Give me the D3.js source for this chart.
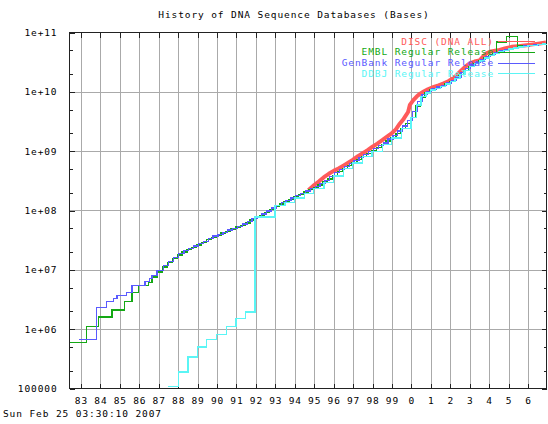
<!DOCTYPE html>
<html><head><meta charset="utf-8">
<script src="https://cdn.jsdelivr.net/npm/d3@7"></script>
<style>
html,body{margin:0;padding:0;background:#fff;}
svg{display:block;}
text{font-family:"DejaVu Sans Mono","Liberation Mono",monospace;font-size:9.5px;letter-spacing:0.9px;}
</style></head><body>
<svg id="c" width="548" height="424"></svg>
<script>
// ---------- data ----------
const titleText = "History of DNA Sequence Databases (Bases)";
const dateText = "Sun Feb 25 03:30:10 2007";
const yearTicks = [1983,1984,1985,1986,1987,1988,1989,1990,1991,1992,1993,1994,1995,1996,1997,1998,1999,2000,2001,2002,2003,2004,2005,2006];
const yearLabels = ["83","84","85","86","87","88","89","90","91","92","93","94","95","96","97","98","99","0","1","2","3","4","5","6"];
const yTickValues = [1e5,1e6,1e7,1e8,1e9,1e10,1e11];
const yTickLabels = ["100000","1e+06","1e+07","1e+08","1e+09","1e+10","1e+11"];
const seriesNames = ["DISC (DNA ALL)","EMBL Regular Release","GenBank Regular Release","DDBJ Regular Release"];

const discYears = [1994.7,1995.0,1995.25,1995.5,1995.75,1996.0,1996.25,1996.5,1996.75,1997.0,1997.25,1997.5,1997.75,1998.0,1998.25,1998.5,1998.75,1999.0,1999.2,1999.4,1999.6,1999.83,1999.92,2000.1,2000.27,2000.45,2000.61,2000.85,2001.12,2001.4,2001.63,2001.9,2002.15,2002.35,2002.58,2002.8,2003.0,2003.25,2003.51,2003.7,2003.86,2004.1,2004.46,2004.8,2005.15,2005.5,2005.92,2006.25,2006.6,2006.92];
const discValues = [2.19e8,2.69e8,3.1e8,3.65e8,4.15e8,4.65e8,5.1e8,5.7e8,6.4e8,7.2e8,8.25e8,9.25e8,1.04e9,1.19e9,1.34e9,1.53e9,1.76e9,2.02e9,2.33e9,2.9e9,3.5e9,4.57e9,6.03e9,7.24e9,8.32e9,9.33e9,1.0e10,1.1e10,1.2e10,1.29e10,1.38e10,1.51e10,1.7e10,1.95e10,2.32e10,2.69e10,3.02e10,3.24e10,3.39e10,3.98e10,4.44e10,4.79e10,5.01e10,5.37e10,5.73e10,5.89e10,6.11e10,6.31e10,6.53e10,6.76e10];

const emblYears = [1982.42,1983.27,1983.9,1984.59,1985.24,1985.62,1985.96,1986.47,1986.65,1986.91,1987.2,1987.45,1987.7,1987.95,1988.2,1988.45,1988.7,1988.95,1989.2,1989.45,1989.7,1989.95,1990.2,1990.45,1990.7,1990.95,1991.2,1991.45,1991.7,1991.95,1992.2,1992.45,1992.7,1992.95,1993.2,1993.45,1993.7,1993.95,1994.2,1994.45,1994.7,1994.95,1995.2,1995.45,1995.7,1995.95,1996.2,1996.45,1996.7,1996.95,1997.2,1997.45,1997.7,1997.95,1998.2,1998.45,1998.7,1998.95,1999.2,1999.45,1999.7,1999.95,2000.2,2000.45,2000.7,2000.95,2001.2,2001.45,2001.7,2001.95,2002.2,2002.45,2002.7,2002.95,2003.2,2003.45,2003.7,2003.95,2004.2,2004.39,2004.91,2005.46,2005.97,2006.45,2006.92];
const emblValues = [5.9e5,1.1e6,1.6e6,2.1e6,2.9e6,4.2e6,5.5e6,6.1e6,7.6e6,9.2e6,1.12e7,1.32e7,1.55e7,1.78e7,2.0e7,2.19e7,2.4e7,2.63e7,2.88e7,3.24e7,3.55e7,3.8e7,4.17e7,4.47e7,4.9e7,5.25e7,5.62e7,6.17e7,6.92e7,7.59e7,8.32e7,9.33e7,1.05e8,1.17e8,1.29e8,1.41e8,1.55e8,1.70e8,1.86e8,2.04e8,2.24e8,2.45e8,2.69e8,3.02e8,3.39e8,3.9e8,4.57e8,5.13e8,5.75e8,6.46e8,7.24e8,8.13e8,9.12e8,1.02e9,1.15e9,1.29e9,1.48e9,1.7e9,2.0e9,2.4e9,2.9e9,3.7e9,5.75e9,8.13e9,9.55e9,1.07e10,1.15e10,1.23e10,1.35e10,1.48e10,1.66e10,1.95e10,2.29e10,2.69e10,3.02e10,3.31e10,3.72e10,4.07e10,4.37e10,6.9e10,8.5e10,5.9e10,6.1e10,6.3e10,6.45e10];

const genbankYears = [1982.9,1983.79,1984.3,1984.68,1984.85,1985.36,1985.62,1986.3,1986.53,1986.65,1986.91,1987.25,1987.5,1987.75,1988.0,1988.3,1988.55,1988.8,1989.05,1989.3,1989.55,1989.8,1990.05,1990.3,1990.55,1990.8,1991.05,1991.3,1991.55,1991.8,1992.05,1992.3,1992.55,1992.8,1993.05,1993.3,1993.55,1993.8,1994.05,1994.3,1994.55,1994.8,1995.05,1995.3,1995.55,1995.8,1996.05,1996.3,1996.55,1996.8,1997.05,1997.3,1997.55,1997.8,1998.05,1998.3,1998.55,1998.8,1999.05,1999.3,1999.55,1999.8,2000.05,2000.3,2000.55,2000.8,2001.05,2001.3,2001.55,2001.8,2002.05,2002.3,2002.55,2002.8,2003.05,2003.3,2003.55,2003.8,2004.05,2004.3,2004.55,2004.8,2005.05,2005.3,2005.55,2005.8,2006.05,2006.3,2006.55,2006.8,2006.92];
const genbankValues = [6.7e5,2.3e6,2.9e6,3.3e6,3.7e6,4.2e6,5.5e6,6.3e6,7.1e6,8.1e6,9.8e6,1.17e7,1.38e7,1.62e7,1.86e7,2.09e7,2.29e7,2.51e7,2.75e7,3.02e7,3.39e7,3.72e7,3.98e7,4.27e7,4.68e7,5.01e7,5.37e7,5.89e7,6.46e7,7.24e7,7.94e7,8.71e7,9.77e7,1.10e8,1.23e8,1.35e8,1.48e8,1.62e8,1.78e8,1.95e8,2.14e8,2.34e8,2.57e8,2.88e8,3.24e8,3.7e8,4.36e8,4.9e8,5.5e8,6.16e8,6.92e8,7.76e8,8.71e8,9.77e8,1.1e9,1.23e9,1.38e9,1.6e9,1.85e9,2.2e9,2.65e9,3.3e9,4.6e9,6.9e9,8.9e9,1.02e10,1.12e10,1.2e10,1.29e10,1.41e10,1.55e10,1.78e10,2.09e10,2.45e10,2.82e10,3.16e10,3.47e10,3.89e10,4.27e10,4.57e10,4.9e10,5.13e10,5.37e10,5.62e10,5.75e10,5.89e10,6.03e10,6.17e10,6.31e10,6.46e10,6.5e10];

const ddbjYears = [1987.5,1988.02,1988.5,1988.99,1989.47,1989.99,1990.47,1990.97,1991.48,1991.96,1992.98,1993.5,1993.98,1994.5,1994.98,1995.5,1995.98,1996.5,1996.98,1997.5,1997.98,1998.5,1998.98,1999.5,1999.98,2000.25,2000.5,2000.75,2001.0,2001.25,2001.5,2001.75,2002.0,2002.25,2002.5,2002.75,2003.0,2003.25,2003.5,2003.75,2004.0,2004.25,2004.5,2004.75,2005.0,2005.25,2005.5,2005.75,2006.0,2006.25,2006.5,2006.75,2006.92];
const ddbjValues = [1.07e5,1.9e5,3.4e5,5.0e5,6.7e5,8.1e5,1.12e6,1.51e6,1.95e6,7.8e7,1.23e8,1.38e8,1.62e8,1.95e8,2.34e8,2.95e8,3.8e8,5.13e8,6.3e8,8.13e8,1.0e9,1.29e9,1.66e9,2.4e9,3.7e9,6.03e9,8.32e9,9.55e9,1.07e10,1.15e10,1.23e10,1.35e10,1.48e10,1.66e10,1.95e10,2.29e10,2.69e10,3.02e10,3.31e10,3.72e10,4.07e10,4.47e10,4.79e10,5.01e10,5.25e10,5.5e10,5.69e10,5.82e10,5.96e10,6.1e10,6.24e10,6.38e10,6.46e10];

const colors = ["#ff5a5a","#14a814","#5a5aff","#5af5f5"];

// ---------- chart ----------
const svg = d3.select("#c");
const L = 69.5, R = 546.5, T = 32.5, B = 388.5;
const x = d3.scaleLinear().domain([1982.41, 2006.95]).range([L, R]);
const y = d3.scaleLog().domain([1e5, 1e11]).range([B, T]);

svg.append("text").attr("x", 294).attr("y", 18).attr("text-anchor","middle").attr("fill","#000").text(titleText);
svg.append("text").attr("x", 3).attr("y", 417).attr("fill","#000").text(dateText);

// grid
const grid = svg.append("g").attr("shape-rendering","crispEdges");
grid.selectAll("line.v").data(yearTicks).join("line")
  .attr("x1", d => Math.round(x(d)) + 0.5).attr("x2", d => Math.round(x(d)) + 0.5)
  .attr("y1", T).attr("y2", B).attr("stroke", "#aaaaaa");
grid.selectAll("line.h").data(yTickValues.slice(1, -1)).join("line")
  .attr("y1", d => Math.round(y(d)) + 0.5).attr("y2", d => Math.round(y(d)) + 0.5)
  .attr("x1", L).attr("x2", R).attr("stroke", "#aaaaaa");

// axes
const minorY = [];
yTickValues.slice(0, -1).forEach(v => { minorY.push(v * 2, v * 5); });

const axB = d3.axisBottom(x).tickValues(yearTicks).tickFormat((d, i) => yearLabels[i]).tickSizeInner(-5).tickSizeOuter(0).tickPadding(9);
const axT = d3.axisTop(x).tickValues(yearTicks).tickFormat("").tickSizeInner(-5).tickSizeOuter(0);
const axL = d3.axisLeft(y).tickValues(yTickValues).tickFormat((d, i) => yTickLabels[i]).tickSizeInner(-5).tickSizeOuter(0).tickPadding(12);
const axR = d3.axisRight(y).tickValues(yTickValues).tickFormat("").tickSizeInner(-5).tickSizeOuter(0);
const axLm = d3.axisLeft(y).tickValues(minorY).tickFormat("").tickSizeInner(-3).tickSizeOuter(0);
const axRm = d3.axisRight(y).tickValues(minorY).tickFormat("").tickSizeInner(-3).tickSizeOuter(0);

function styleAxis(g) {
  g.attr("shape-rendering","crispEdges");
  g.select(".domain").remove();
  g.selectAll(".tick line").attr("stroke", "#222");
  g.selectAll(".tick text").attr("fill", "#000").style("font-family", '"DejaVu Sans Mono",monospace').style("font-size", "9.5px").style("letter-spacing","0.9px");
}
svg.append("g").attr("transform", `translate(0,${B})`).call(axB).call(styleAxis);
svg.append("g").attr("transform", `translate(0,${T})`).call(axT).call(styleAxis);
svg.append("g").attr("transform", `translate(${L},0)`).call(axL).call(styleAxis);
svg.append("g").attr("transform", `translate(${R},0)`).call(axR).call(styleAxis);
svg.append("g").attr("transform", `translate(${L},0)`).call(axLm).call(styleAxis);
svg.append("g").attr("transform", `translate(${R},0)`).call(axRm).call(styleAxis);

// border
svg.append("rect").attr("x", L).attr("y", T).attr("width", R - L).attr("height", B - T)
  .attr("fill","none").attr("stroke","#222").attr("shape-rendering","crispEdges");

// series
const zip = (xs, vs) => xs.map((d, i) => [d, vs[i]]);
const stepLine = d3.line().x(d => x(d[0])).y(d => y(d[1])).curve(d3.curveStepAfter);
const plainLine = d3.line().x(d => x(d[0])).y(d => y(d[1]));
const plot = svg.append("g");

plot.append("path").datum(zip(discYears, discValues)).attr("d", plainLine)
  .attr("fill","none").attr("stroke", colors[0]).attr("stroke-width", 4).attr("stroke-linejoin","round");
plot.append("path").datum(zip(emblYears, emblValues)).attr("d", stepLine)
  .attr("fill","none").attr("stroke", colors[1]).attr("stroke-width", 1.3).attr("shape-rendering","crispEdges");
plot.append("path").datum(zip(genbankYears, genbankValues)).attr("d", stepLine)
  .attr("fill","none").attr("stroke", colors[2]).attr("stroke-width", 1.3).attr("shape-rendering","crispEdges");
plot.append("path").datum(zip(ddbjYears, ddbjValues)).attr("d", stepLine)
  .attr("fill","none").attr("stroke", colors[3]).attr("stroke-width", 1.3).attr("shape-rendering","crispEdges");

// legend
const lg = svg.append("g");
seriesNames.forEach((name, i) => {
  const yy = 41 + i * 10.8;
  lg.append("text").attr("x", 494).attr("y", yy + 3.5).attr("text-anchor","end").attr("fill", colors[i]).text(name);
  lg.append("line").attr("x1", 498).attr("x2", 535).attr("y1", Math.round(yy) + 0.5).attr("y2", Math.round(yy) + 0.5)
    .attr("stroke", colors[i]).attr("stroke-width", 1.3).attr("shape-rendering","crispEdges");
});
</script>
</body></html>
